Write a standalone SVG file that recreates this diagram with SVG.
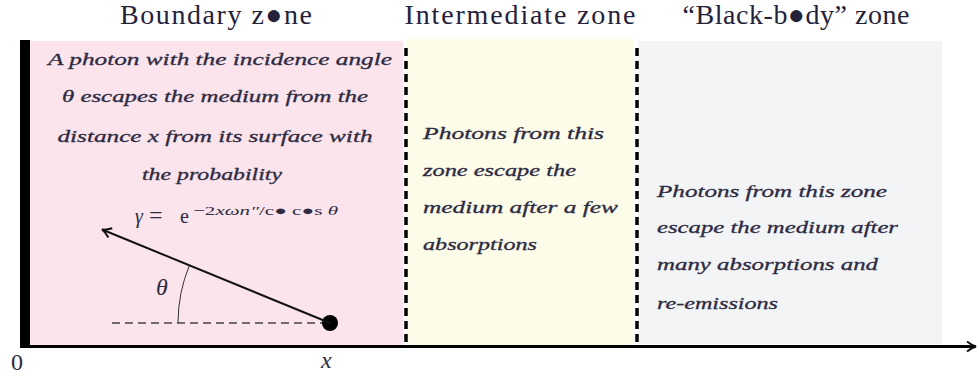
<svg xmlns="http://www.w3.org/2000/svg" width="979" height="379" viewBox="0 0 979 379">
<defs>
<style>
.title{font-family:"Liberation Serif","DejaVu Serif",serif;font-size:28px;fill:#24223a;text-anchor:middle}
.it{font-family:"Liberation Serif","DejaVu Serif",serif;font-style:italic;font-size:17px;fill:#2d2a42;stroke:#2d2a42;stroke-width:0.3}
.itc{font-family:"Liberation Serif","DejaVu Serif",serif;font-style:italic;font-size:17px;fill:#2d2a42;stroke:#2d2a42;stroke-width:0.3;text-anchor:middle}
.math{font-family:"Liberation Serif","DejaVu Serif",serif;fill:#2d2a42}
.mi{font-style:italic}
.zdash{stroke:#000;stroke-width:3.5;stroke-dasharray:8 5;fill:none}
</style>
<marker id="barb" viewBox="0 0 12 12" refX="10" refY="6" markerWidth="12" markerHeight="12" markerUnits="userSpaceOnUse" orient="auto">
<path d="M1,1 Q6,5 10,6 Q6,7 1,11" fill="none" stroke="#111" stroke-width="2"/>
</marker>
</defs>

<g id="zone-boundary">
<rect x="30" y="41" width="373" height="304" fill="#fbe4ec"/>
<text class="title" x="216" y="24" textLength="192">Boundary z●ne</text>
<text class="itc" x="220" y="65" textLength="344" lengthAdjust="spacingAndGlyphs">A photon with the incidence angle</text>
<text class="itc" x="215" y="102" textLength="306" lengthAdjust="spacingAndGlyphs">θ escapes the medium from the</text>
<text class="itc" x="215" y="142" textLength="315" lengthAdjust="spacingAndGlyphs">distance x from its surface with</text>
<text class="itc" x="212" y="180" textLength="140" lengthAdjust="spacingAndGlyphs">the probability</text>
<text class="math mi" x="135" y="223" font-size="20">γ</text>
<text class="math" x="149" y="223" font-size="24">=</text>
<text class="math" x="180" y="223" font-size="20">e</text>
<text class="math" x="193" y="215" font-size="13" textLength="145" lengthAdjust="spacingAndGlyphs">−2<tspan class="mi">xωn″</tspan>/c● c●s <tspan class="mi">θ</tspan></text>
</g>

<g id="zone-intermediate">
<rect x="406" y="39" width="228" height="306" fill="#fcfce9"/>
<text class="title" x="520" y="24" textLength="231">Intermediate zone</text>
<text class="it" x="423" y="139" textLength="181" lengthAdjust="spacingAndGlyphs">Photons from this</text>
<text class="it" x="423" y="176" textLength="153" lengthAdjust="spacingAndGlyphs">zone escape the</text>
<text class="it" x="423" y="213" textLength="195" lengthAdjust="spacingAndGlyphs">medium after a few</text>
<text class="it" x="423" y="250" textLength="114" lengthAdjust="spacingAndGlyphs">absorptions</text>
</g>

<g id="zone-blackbody">
<rect x="638" y="41" width="304" height="303" fill="#f3f4f6"/>
<text class="title" x="796" y="24" textLength="227">“Black-b●dy” zone</text>
<text class="it" x="657" y="197" textLength="230" lengthAdjust="spacingAndGlyphs">Photons from this zone</text>
<text class="it" x="657" y="233" textLength="241" lengthAdjust="spacingAndGlyphs">escape the medium after</text>
<text class="it" x="657" y="270" textLength="221" lengthAdjust="spacingAndGlyphs">many absorptions and</text>
<text class="it" x="657" y="309" textLength="121" lengthAdjust="spacingAndGlyphs">re-emissions</text>
</g>

<g id="photon">
<line x1="112" y1="323" x2="322" y2="323" stroke="#444" stroke-width="1.5" stroke-dasharray="8 5"/>
<path d="M178,323 A152,152 0 0 1 189.5,265.1" fill="none" stroke="#333" stroke-width="1"/>
<text class="math mi" x="156" y="295" font-size="24">θ</text>
<circle cx="330" cy="323" r="8" fill="#000"/>
</g>

<g id="axis-labels">
<text class="math" x="11" y="370" font-size="24">0</text>
<text class="math mi" x="321" y="368" font-size="24">x</text>
</g>

<g id="connectors">
<line x1="330" y1="323" x2="102" y2="229.5" stroke="#111" stroke-width="2" marker-end="url(#barb)"/>
<rect x="20" y="40" width="10" height="308" fill="#000"/>
<line x1="20" y1="346.5" x2="976" y2="346.5" stroke="#000" stroke-width="3" marker-end="url(#barb)"/>
<line class="zdash" x1="406" y1="48" x2="406" y2="345"/>
<line class="zdash" x1="637" y1="48" x2="637" y2="345"/>
</g>
</svg>
